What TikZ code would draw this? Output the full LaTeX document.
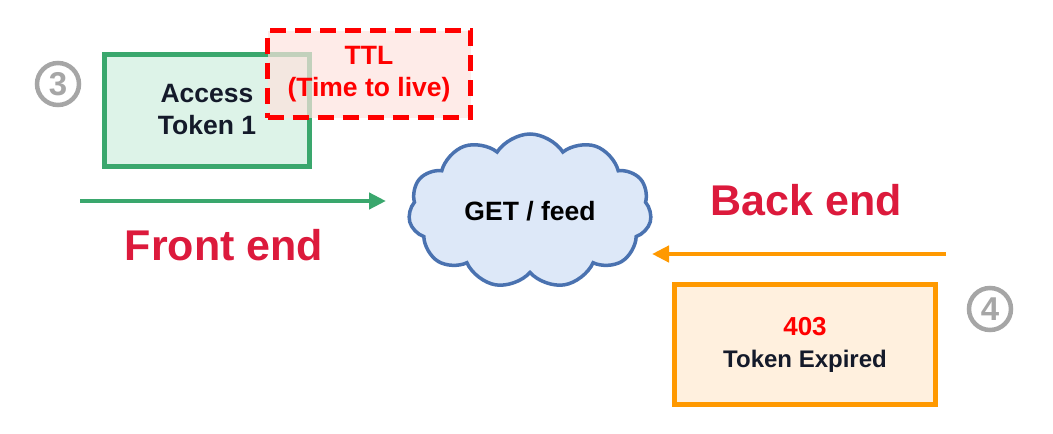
\documentclass[tikz,border=0pt]{standalone}
\usepackage{fontspec}
\setmainfont{Liberation Sans}
\usetikzlibrary{arrows.meta,shapes.symbols}
\definecolor{tokgreen}{HTML}{3AA76D}
\definecolor{tokgreenbg}{HTML}{DDF3E8}
\definecolor{ttlred}{HTML}{FF0000}
\definecolor{ttlbg}{HTML}{FDE3DE}
\definecolor{cloudblue}{HTML}{4A72B0}
\definecolor{cloudbg}{HTML}{DDE8F8}
\definecolor{resporange}{HTML}{FF9900}
\definecolor{respbg}{HTML}{FFF0DE}
\definecolor{stepgray}{HTML}{A6A6A6}
\definecolor{sidered}{HTML}{DC1A3C}
\definecolor{inkdark}{HTML}{141A2A}
\begin{document}
\begin{tikzpicture}[x=1pt,y=-1pt,
    stepnum/.style={circle, draw=stepgray, line width=4.5pt, text=stepgray,
      minimum size=42pt, inner sep=0pt, font=\fontsize{33}{33}\selectfont\bfseries},
    sidelabel/.style={text=sidered, font=\fontsize{43}{43}\selectfont\bfseries},
    boxtext/.style={align=center, font=\fontsize{26.5}{32}\selectfont\bfseries}]

  \useasboundingbox (0,0) rectangle (1053,434);

  % token and its ttl
  \node (token) [draw=tokgreen, fill=tokgreenbg, line width=5pt, minimum width=205pt,
    minimum height=112pt, text=inkdark, boxtext] at (207,110) {Access\\Token 1};
  \node (ttl) [draw=ttlred, fill=ttlbg, fill opacity=0.7, text opacity=1, line width=5pt,
    dash pattern=on 16pt off 9pt, minimum width=203pt, minimum height=87pt,
    text=ttlred, boxtext] at (369,74) {TTL\\(Time to live)};
  \node (three) [stepnum] at (58,84) {3};

  \node (feed) [cloud, cloud puffs=11, cloud puff arc=115, cloud ignores aspect,
    minimum width=243pt, minimum height=154pt, draw=cloudblue, fill=cloudbg,
    line width=3.5pt, boxtext] at (530,211) {GET / feed};

  \coordinate (fe from) at (80,201);
  \coordinate (fe to) at (386,201);
  \draw [tokgreen, line width=4.5pt, -{Triangle[length=17pt,width=16pt]}] (fe from) -- (fe to);
  \node (front) [sidelabel] at (224,245) {Front end};

  \coordinate (be from) at (946,254);
  \coordinate (be to) at (652,254);
  \draw [resporange, line width=4.5pt, -{Triangle[length=17pt,width=16pt]}] (be from) -- (be to);
  \node (back) [sidelabel] at (806,200) {Back end};

  \node (expired) [draw=resporange, fill=respbg, line width=5.5pt, minimum width=261pt,
    minimum height=120pt, boxtext, font=\fontsize{24}{32}\selectfont\bfseries,
    text=inkdark] at (805,344.5)
    {\textcolor{ttlred}{\fontsize{26}{26}\selectfont 403}\\Token Expired};
  \node (four) [stepnum] at (990,309) {4};

\end{tikzpicture}
\end{document}
